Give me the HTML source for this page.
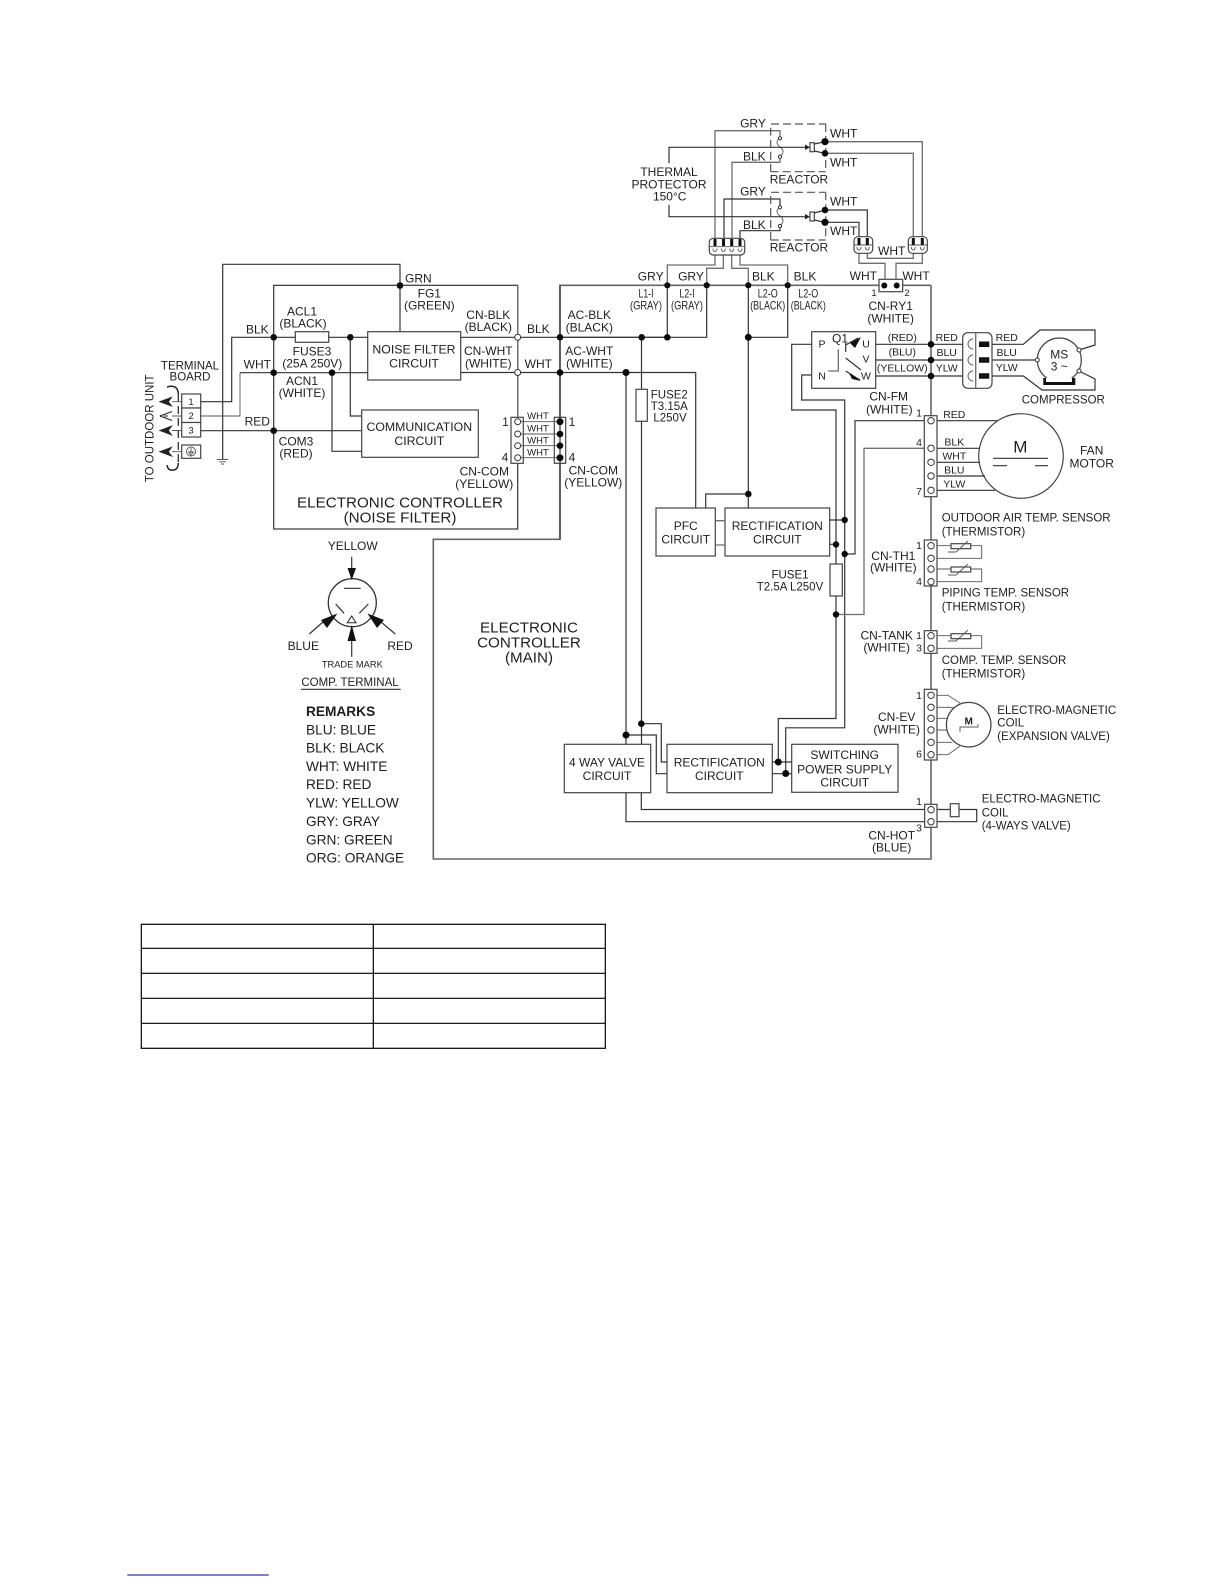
<!DOCTYPE html>
<html><head><meta charset="utf-8"><title>Wiring diagram</title>
<style>
html,body{margin:0;padding:0;background:#fff}
svg{display:block}
text{font-family:"Liberation Sans",sans-serif;font-size:12px;fill:#1e1e1e;text-anchor:middle}
.l{text-anchor:start}
.s9{font-size:9.5px}.s10{font-size:10.5px}.s11{font-size:11.5px}.s12{font-size:12.3px}.s15{font-size:15.2px}.s14{font-size:13.7px}
.w{fill:none;stroke:#333;stroke-width:1.2}
.g{fill:none;stroke:#6e6e6e;stroke-width:1.3}
.t{fill:none;stroke:#555;stroke-width:.9}
.r{fill:none;stroke:#666;stroke-width:1.6}
.d{fill:none;stroke:#555;stroke-width:1.2;stroke-dasharray:8 4}
.b{fill:#fff;stroke:#444;stroke-width:1.2}
.o{fill:#fff;stroke:#333;stroke-width:1}
</style></head><body>
<svg width="1224" height="1584" viewBox="0 0 1224 1584" xmlns="http://www.w3.org/2000/svg">
<rect width="1224" height="1584" fill="#fff"/>

<!-- outer frames -->
<rect class="w" x="273.7" y="285.3" width="244" height="243.7" fill="none"/>
<path class="r" d="M931 285.3V859H433.3V539.3H560V285.3H880M903 285.3H931"/>

<!-- ground / GRN -->
<path class="w" d="M400 332V264.3H222.7V459"/>
<path class="t" d="M217 459.5H228M219 461.8H226M221 464H224"/>

<!-- noise filter wiring -->
<path class="w" d="M200.7 401.7H231.7V337.3H295.3M328.7 337.3H367.7"/>
<path class="t" d="M200.7 416H240V372.7"/>
<path class="w" d="M240 372.7H367.7M200.7 430.7H361.7"/>
<path class="w" d="M350.3 337.3V416H361.7M332 372.7V451.3H361.7"/>
<path class="w" d="M460.7 337.3H667M460.7 372.5H695.7V508"/>
<path class="g" d="M517.7 285.3V421"/>
<rect class="b" x="295.3" y="331.7" width="33.4" height="10.6" fill="none"/>
<rect class="b" x="367.7" y="331.7" width="93" height="48.3"/>
<rect class="b" x="361.7" y="410" width="116.6" height="47.3"/>

<!-- CN-COM -->
<rect class="b" x="511" y="417.3" width="12.3" height="46"/>
<rect class="b" x="554.3" y="417.3" width="11.4" height="46"/>
<path class="w" d="M560 285.3V539.3"/>
<path class="t" d="M517.7 421.7H560M517.7 434H560M517.7 445.7H560M517.7 457.7H560"/>
<circle class="o" cx="517.7" cy="421.7" r="3"/><circle class="o" cx="517.7" cy="434" r="3"/><circle class="o" cx="517.7" cy="445.7" r="3"/><circle class="o" cx="517.7" cy="457.7" r="3"/>
<circle class="o" cx="517.7" cy="337.3" r="3"/><circle class="o" cx="517.7" cy="372.5" r="3"/>

<!-- top right L1/L2 block -->
<path class="w" d="M667.3 285.3V337.3M706.7 285.3V337.3H560M748.3 285.3V508M748.3 337.3H787.7V285.3"/>
<path class="w" d="M748.3 494H705.7V508"/>
<path class="w" d="M641.5 337.3V389.3M641.5 421.3V744.3M626 372.5V744.3"/>
<rect class="b" x="636" y="389.3" width="11.3" height="32" fill="none"/>

<!-- connector from reactors -->
<path class="g" d="M715 238V130.7H780V138M780 157V162.3H732V238"/>
<path class="w" d="M724 238V199H780V207M780 226V230.7H740V238"/>
<path class="g" d="M715 255V265H667.3V285.3M723.3 255V268.3H706.7V285.3M731.7 255V268.3H748.3V285.3M740 255V265H787.7V285.3"/>
<path class="t" d="M780 138c-4 3-4 6 0 9s4 6 0 10M780 207c-4 3-4 6 0 9s4 6 0 10"/>
<circle class="o" cx="780" cy="138.3" r="1.6"/><circle class="o" cx="780" cy="156.7" r="1.6"/><circle class="o" cx="780" cy="207.3" r="1.6"/><circle class="o" cx="780" cy="226" r="1.6"/>
<path class="d" d="M770.7 171.7V124H825.7M770.7 171.7H825.7M825.7 124V171"/>
<path class="d" d="M770.7 240V192.3H825.7M770.7 240H825.7M825.7 192.3V240"/>
<path class="w" d="M669 163.3V147.3H808M669 205V216.7H808"/>
<path d="M805 144.5L810 147.3L805 150ZM805 214L810 216.7L805 219.4Z" fill="#222"/>
<rect class="b" x="810" y="142.7" width="4.3" height="9"/><rect class="b" x="810" y="212" width="4.3" height="9"/>
<path class="w" d="M814.3 144L825 141.7M814.3 151L825 153.3M814.3 213L825 210M814.3 220L825 222.3"/>
<path class="g" d="M825 141.7H922.3V236.7M825 153.3H913.3V236.7"/>
<path class="w" d="M825 210H867.3V240M825 222.3H859V240"/>
<path class="g" d="M859 253V263.3H885V280M867.3 253V258.3H913.3V253M922.3 253V263.3H896V280"/>
<rect x="709.3" y="238.3" width="35.4" height="16.7" rx="4" class="b"/>
<path class="t" d="M709.3 246.7H744.7"/>
<path d="M713.5 239h3v7h-3zM722 239h3v7h-3zM730.2 239h3v7h-3zM738.5 239h3v7h-3z" fill="#111"/>
<path class="t" d="M713 248.5a2 3 0 0 0 4 0M721.3 248.5a2 3 0 0 0 4 0M729.7 248.5a2 3 0 0 0 4 0M738 248.5a2 3 0 0 0 4 0"/>
<rect x="854" y="236.7" width="18.7" height="16.6" rx="4" class="b"/>
<rect x="908.3" y="236.7" width="19" height="16.6" rx="4" class="b"/>
<path class="t" d="M854 245H872.7M908.3 245H927.3"/>
<path d="M857.5 238h3v7h-3zM865.8 238h3v7h-3zM911.8 238h3v7h-3zM920.8 238h3v7h-3z" fill="#111"/>
<path class="t" d="M857 247a2 3 0 0 0 4 0M865.3 247a2 3 0 0 0 4 0M911.3 247a2 3 0 0 0 4 0M920.3 247a2 3 0 0 0 4 0"/>
<rect class="b" x="879" y="279.3" width="23.7" height="12.4"/>

<!-- PFC & rectification -->
<rect class="b" x="656" y="508" width="59.3" height="48"/>
<rect class="b" x="725" y="508" width="104.7" height="48"/>
<path class="g" d="M715.3 520.7H725M715.3 545H725"/>
<path class="w" d="M829.7 520H844.7M829.7 544.3H836M844.7 554H855V420.7H1000"/>
<path class="w" d="M811.7 344.3H791.7V410H836V564M836 596V718.5H778.3V762"/>
<path class="w" d="M811.7 375H801.7V400H844.7V727.8H785.7V773.5"/>
<rect class="b" x="830" y="564" width="12.3" height="32" fill="none"/>
<path class="g" d="M836 614.5H864V448.3H930"/>

<!-- Q box -->
<rect class="b" x="811.7" y="331.7" width="64" height="56.6"/>
<path class="g" d="M838.3 349.3V371H828.3"/>
<path class="w" d="M845.7 343V352M845.7 345L858 338M845.7 358L861 370M845.7 371L860 380"/>
<path d="M850 343L861 337L855 348ZM849 373L861 381L852 379Z" fill="#111"/>
<path class="w" d="M875.7 344.3H962.7M875.7 360H962.7M875.7 376H962.7"/>
<rect x="962.7" y="332.7" width="29.3" height="55.6" rx="5" class="b"/>
<path class="g" d="M975.7 332.7V388.3"/>
<path class="t" d="M973 339a5 5 0 0 0 0 10M973 355a5 5 0 0 0 0 10M973 371a5 5 0 0 0 0 10"/>
<path d="M979 341.5h10.3v5.5H979zM979 357.2h10.3v5.5H979zM979 373.2h10.3v5.5H979z" fill="#111"/>
<!-- compressor -->
<path class="w" d="M992 344.3H1023.3L1040 330H1095V345L1079 350M992 360H1037.3M992 376H1023.3L1042 390H1095V379L1079 371"/>
<circle cx="1059.3" cy="360" r="22" class="b"/>
<circle class="o" cx="1037.3" cy="360" r="2"/><circle class="o" cx="1079" cy="350" r="2"/><circle class="o" cx="1079" cy="371" r="2"/>
<path d="M1043.3 378h32v7h-32z" fill="#111"/><path d="M1046 378h26v4h-26z" fill="#fff"/>

<!-- CN-FM / fan -->
<circle cx="1021" cy="456" r="42.3" class="b"/>
<path class="w" d="M937 448.3H980M937 462.3H980M937 476H985M937 490.3H995M993 458.3H1048M993 465.7H1007M1035 465.7H1048"/>
<rect class="b" x="924.3" y="415.7" width="12.7" height="81"/>
<circle class="o" cx="931" cy="420.7" r="3.2"/><circle class="o" cx="931" cy="448.3" r="3.2"/><circle class="o" cx="931" cy="462.3" r="3.2"/><circle class="o" cx="931" cy="476" r="3.2"/><circle class="o" cx="931" cy="490.3" r="3.2"/>

<!-- thermistors -->
<rect class="b" x="924.3" y="540" width="12.7" height="46"/>
<circle class="o" cx="931" cy="545.7" r="3.2"/><circle class="o" cx="931" cy="558.3" r="3.2"/><circle class="o" cx="931" cy="569" r="3.2"/><circle class="o" cx="931" cy="581.7" r="3.2"/>
<path class="t" d="M937 545.7H951M970.7 545.7H981.7V558.3H937M937 569H951M970.7 569H981.7V581.7H937"/>
<rect class="b" x="951" y="543.7" width="19.7" height="5" fill="none"/><rect class="b" x="951" y="567" width="19.7" height="5" fill="none"/>
<path class="t" d="M948 552L956 552L968 541M948 575L956 575L968 564"/>
<rect class="b" x="924.3" y="630.7" width="12.7" height="22.6"/>
<circle class="o" cx="931" cy="635.7" r="3.2"/><circle class="o" cx="931" cy="648.3" r="3.2"/>
<path class="t" d="M937 635.7H951M970.7 635.7H981.7V648.3H937"/>
<rect class="b" x="951" y="633.7" width="19.7" height="5" fill="none"/>
<path class="t" d="M948 641L956 641L968 630"/>

<!-- CN-EV -->
<path class="t" d="M937 695.3H948L960 703M937 707.3H950L954 708M937 718.3H947M937 730H947M937 742.3H952M937 754.7H948L960 746"/>
<rect class="b" x="924.3" y="689.3" width="12.7" height="70.7"/>
<circle class="o" cx="931" cy="695.3" r="3.2"/><circle class="o" cx="931" cy="707.3" r="3.2"/><circle class="o" cx="931" cy="718.3" r="3.2"/><circle class="o" cx="931" cy="730" r="3.2"/><circle class="o" cx="931" cy="742.3" r="3.2"/><circle class="o" cx="931" cy="754.7" r="3.2"/>
<circle cx="968.7" cy="724.7" r="22.3" class="b"/>
<path class="t" d="M960 732V727H978V724"/>

<!-- bottom blocks -->
<rect class="b" x="564.3" y="744.3" width="86.4" height="48.4"/>
<rect class="b" x="667" y="744.3" width="105.3" height="48.4"/>
<rect class="b" x="791.7" y="744.3" width="106.3" height="48"/>
<path class="w" d="M641.3 723.7H661.3V762H667M626 735H656.3V773.7H667"/>
<path class="w" d="M772.3 762H791.7M772.3 773.7H791.7"/>
<path class="w" d="M641.3 792.7V809.5H976.7V821.7H626V792.7"/>
<rect class="b" x="924.7" y="804.3" width="12.3" height="23"/>
<circle class="o" cx="931" cy="809.7" r="3.2"/><circle class="o" cx="931" cy="821.7" r="3.2"/>
<rect class="b" x="950.3" y="803.7" width="8.7" height="13"/>

<!-- terminal board -->
<rect class="b" x="181.7" y="394" width="19" height="14"/><rect class="b" x="181.7" y="408" width="19" height="14.5"/><rect class="b" x="181.7" y="422.5" width="19" height="14.5"/><rect class="b" x="181.7" y="445" width="19" height="13.3"/>
<circle class="t" cx="191" cy="451.5" r="4.5"/>
<path class="t" d="M191 448V453M188.5 452L191 455L193.5 452Z"/>
<path d="M178.3 394V464" fill="none" stroke="#333" stroke-width="1.3" stroke-dasharray="8 4"/>
<path d="M167 387Q178 384 178.3 394M167 465Q168 471 173 470Q178 470 178.3 463" fill="none" stroke="#222" stroke-width="1.5"/>
<path d="M172 401.7H181.7M172 416H181.7M172 430.5H181.7M172 451.7H181.7" class="t"/>
<path d="M159.5 401.7L172 397L168.5 401.7L172 406.4Z" fill="#222" stroke="#222" stroke-width=".6"/>
<path d="M160 416L172 411.5M160 416L172 420.5M164 416H168" fill="none" stroke="#222" stroke-width="1.1"/>
<path d="M159.5 430.5L172 425.8L168.5 430.5L172 435.2Z" fill="#222" stroke="#222" stroke-width=".6"/>
<path d="M159.5 451.7L172 447L168.5 451.7L172 456.4Z" fill="#222" stroke="#222" stroke-width=".6"/>

<!-- dots -->
<g fill="#0a0a0a">
<circle cx="400" cy="285.5" r="3.3"/><circle cx="273.7" cy="337.3" r="3.3"/><circle cx="350.3" cy="337.3" r="3.3"/><circle cx="273.7" cy="372.7" r="3.3"/><circle cx="332" cy="372.7" r="3.3"/><circle cx="273.7" cy="430.7" r="3.3"/>
<circle cx="560" cy="337.3" r="3.3"/><circle cx="560" cy="372.5" r="3.3"/><circle cx="560" cy="421.7" r="3.5"/><circle cx="560" cy="434" r="3.3"/><circle cx="560" cy="445.7" r="3.3"/><circle cx="560" cy="457.7" r="3.5"/>
<circle cx="641.7" cy="337.3" r="3.3"/><circle cx="667.3" cy="337.3" r="3.3"/><circle cx="748.3" cy="337.3" r="3.5"/><circle cx="626" cy="372.5" r="3.5"/>
<circle cx="667.3" cy="285.3" r="3.1"/><circle cx="706.7" cy="285.3" r="3.1"/><circle cx="748.3" cy="285.3" r="3.1"/><circle cx="787.7" cy="285.3" r="3.1"/>
<circle cx="748.3" cy="494" r="3.3"/><circle cx="825" cy="141.7" r="3.6"/><circle cx="825" cy="153.3" r="3.3"/><circle cx="825" cy="210" r="3.3"/><circle cx="825" cy="222.3" r="3.6"/>
<circle cx="884.3" cy="285.5" r="3"/><circle cx="896.7" cy="285.5" r="3"/>
<circle cx="931" cy="344.3" r="3.3"/><circle cx="931" cy="360" r="3.3"/><circle cx="931" cy="376" r="3.3"/>
<circle cx="844.7" cy="520" r="3.2"/><circle cx="836" cy="544.5" r="3.2"/><circle cx="844.7" cy="554" r="3.2"/><circle cx="836" cy="614.5" r="3.2"/>
<circle cx="641.3" cy="723.7" r="3.3"/><circle cx="626" cy="735" r="3.5"/><circle cx="778.3" cy="762" r="3.5"/><circle cx="785.7" cy="773.5" r="3.5"/>
</g>

<!-- comp terminal symbol -->
<circle cx="352.3" cy="602.7" r="24" fill="none" stroke="#333" stroke-width="1.3"/>
<path class="w" d="M351.7 556.7V570M351.7 640V656.7M309.3 634L323 622M395.3 634L381 622M344 588.3H360.7M335.7 604L344 613.3M368.3 604L359.3 613.3"/>
<path d="M351.7 580L347.5 568H356ZM351.7 625L347.5 641H356ZM337.5 613.5L321 620L327 628ZM367.5 613.5L384 620L377 628Z" fill="#111"/>
<path d="M351.7 616L347.3 622.7H356Z" fill="#fff" stroke="#222"/>
<path d="M301 689.3H400.7" stroke="#333" stroke-width="1.2" fill="none"/>

<!-- table -->
<g fill="none" stroke="#000" stroke-width="1.2">
<rect x="141.3" y="924.3" width="464" height="124"/>
<path d="M373.3 924.3V1048.3M141.3 948.3H605.3M141.3 973.3H605.3M141.3 998.3H605.3M141.3 1023.3H605.3"/>
</g>
<path d="M127.3 1575H268.7" stroke="#00008b" stroke-width="1.1"/>

<!-- labels -->
<text class="s11" x="190" y="369.3">TERMINAL</text><text class="s11" x="190" y="380.7">BOARD</text>
<text class="s11" transform="translate(153.3 428.3) rotate(-90)">TO OUTDOOR UNIT</text>
<text class="s9" x="191" y="405">1</text><text class="s9" x="191" y="419">2</text><text class="s9" x="191" y="433.5">3</text>
<text x="405" y="282.3" class="l">GRN</text>
<text x="257.3" y="333.3">BLK</text><text x="257.3" y="368.3">WHT</text><text x="257.3" y="425.7">RED</text>
<text x="302" y="315.7">ACL1</text><text x="303" y="327.7">(BLACK)</text>
<text x="312" y="355.3">FUSE3</text><text x="312.3" y="367.3">(25A 250V)</text>
<text x="302" y="385">ACN1</text><text x="302" y="397">(WHITE)</text>
<text x="296" y="445.3">COM3</text><text x="296" y="457.3">(RED)</text>
<text class="s12" x="414" y="353.7">NOISE FILTER</text><text class="s12" x="414" y="367.3">CIRCUIT</text>
<text class="s12" x="419.3" y="431">COMMUNICATION</text><text class="s12" x="419.3" y="445">CIRCUIT</text>
<text x="429.3" y="297.3">FG1</text><text x="429.3" y="309.3">(GREEN)</text>
<text x="488.3" y="319">CN-BLK</text><text x="488.3" y="331">(BLACK)</text>
<text x="488.3" y="355">CN-WHT</text><text x="488.3" y="367.3">(WHITE)</text>
<text x="505.5" y="426">1</text><text x="505" y="461.7">4</text><text x="572" y="426">1</text><text x="572" y="461.7">4</text>
<text x="484.3" y="475.7">CN-COM</text><text x="484.3" y="488">(YELLOW)</text>
<text class="s15" x="400" y="507.7">ELECTRONIC CONTROLLER</text><text class="s15" x="400" y="522.3">(NOISE FILTER)</text>
<text x="538.3" y="333">BLK</text><text x="538.3" y="368">WHT</text>
<text x="589.3" y="319">AC-BLK</text><text x="589.3" y="331.3">(BLACK)</text><text x="589.3" y="355">AC-WHT</text><text x="589.3" y="367.3">(WHITE)</text>
<text x="650.7" y="280.3">GRY</text><text x="691" y="280.3">GRY</text><text x="763.3" y="280.3">BLK</text><text x="805" y="280.3">BLK</text>
<text x="646" y="297.3" textLength="15" lengthAdjust="spacingAndGlyphs">L1-I</text><text x="646" y="309.3" textLength="32" lengthAdjust="spacingAndGlyphs">(GRAY)</text>
<text x="687" y="297.3" textLength="15" lengthAdjust="spacingAndGlyphs">L2-I</text><text x="687" y="309.3" textLength="32" lengthAdjust="spacingAndGlyphs">(GRAY)</text>
<text x="767.7" y="297.3" textLength="20" lengthAdjust="spacingAndGlyphs">L2-O</text><text x="767.7" y="309.3" textLength="35" lengthAdjust="spacingAndGlyphs">(BLACK)</text>
<text x="808.3" y="297.3" textLength="20" lengthAdjust="spacingAndGlyphs">L2-O</text><text x="808.3" y="309.3" textLength="35" lengthAdjust="spacingAndGlyphs">(BLACK)</text>
<text class="s11" x="669.3" y="398.3">FUSE2</text><text class="s11" x="669.3" y="410">T3.15A</text><text class="s11" x="670" y="421.3">L250V</text>
<text class="s9" x="538" y="419">WHT</text><text class="s9" x="538" y="431.5">WHT</text><text class="s9" x="538" y="443.5">WHT</text><text class="s9" x="538" y="455.5">WHT</text>
<text x="593.3" y="474.3">CN-COM</text><text x="593.3" y="486.7">(YELLOW)</text>
<text x="685.7" y="530">PFC</text><text x="685.7" y="543.3">CIRCUIT</text>
<text x="777.3" y="530">RECTIFICATION</text><text x="777.3" y="543.3">CIRCUIT</text>
<text x="753" y="127.3">GRY</text><text x="754.3" y="160.7">BLK</text><text x="753" y="195.7">GRY</text><text x="754.3" y="229">BLK</text>
<text x="669" y="176">THERMAL</text><text x="669" y="188.3">PROTECTOR</text><text x="669.7" y="200.7">150°C</text>
<text class="l" x="830" y="137.3">WHT</text><text class="l" x="830" y="166.7">WHT</text><text class="l" x="830" y="205.3">WHT</text><text class="l" x="830" y="235">WHT</text>
<text x="799" y="183.3">REACTOR</text><text x="799" y="251.7">REACTOR</text>
<text x="891.7" y="255">WHT</text><text x="863.3" y="280">WHT</text><text x="916" y="280">WHT</text>
<text class="s9" x="874" y="296">1</text><text class="s9" x="907" y="296">2</text>
<text x="890.7" y="310">CN-RY1</text><text x="890.7" y="322.3">(WHITE)</text>
<text class="s10" x="822" y="347.3">P</text><text class="s10" x="822" y="379.3">N</text><text x="840" y="342.3">Q1</text><text class="s10" x="866" y="347.3">U</text><text class="s10" x="866" y="362.7">V</text><text class="s10" x="866" y="379.3">W</text>
<text class="s10" x="902.3" y="341">(RED)</text><text class="s10" x="902.3" y="355.7">(BLU)</text><text class="s10" x="902.3" y="371.3">(YELLOW)</text>
<text class="s10" x="946.7" y="341">RED</text><text class="s10" x="946.7" y="356">BLU</text><text class="s10" x="946.7" y="371.3">YLW</text>
<text class="s10" x="1006.7" y="341">RED</text><text class="s10" x="1006.7" y="356">BLU</text><text class="s10" x="1006.7" y="371">YLW</text>
<text x="1059.3" y="358.3">MS</text><text x="1059.3" y="370.7">3 ~</text>
<text class="s11" x="1063.3" y="403.3">COMPRESSOR</text>
<text x="888.7" y="400.7">CN-FM</text><text x="889.3" y="413.3">(WHITE)</text>
<text class="s10" x="919" y="416.7">1</text><text class="s10" x="919" y="446">4</text><text class="s10" x="919" y="495">7</text>
<text class="s10" x="954.3" y="418">RED</text><text class="s10" x="954.3" y="445.7">BLK</text><text class="s10" x="954.3" y="459.3">WHT</text><text class="s10" x="954.3" y="473.7">BLU</text><text class="s10" x="954.3" y="487.3">YLW</text>
<text x="1020.3" y="452.7" style="font-size:17px">M</text>
<text x="1091.7" y="454.3">FAN</text><text x="1091.7" y="467.7">MOTOR</text>
<text class="l s11" x="941.7" y="521.7">OUTDOOR AIR TEMP. SENSOR</text><text class="l s11" x="941.7" y="535.7">(THERMISTOR)</text>
<text x="893.3" y="560">CN-TH1</text><text x="893.3" y="571.7">(WHITE)</text>
<text class="s10" x="919" y="549">1</text><text class="s10" x="919" y="585">4</text>
<text class="l s11" x="941.7" y="596.7">PIPING TEMP. SENSOR</text><text class="l s11" x="941.7" y="610.7">(THERMISTOR)</text>
<text x="886.7" y="639.3">CN-TANK</text><text x="886.7" y="651.7">(WHITE)</text>
<text class="s10" x="919" y="639">1</text><text class="s10" x="919" y="651.7">3</text>
<text class="l s11" x="941.7" y="664">COMP. TEMP. SENSOR</text><text class="l s11" x="941.7" y="677.3">(THERMISTOR)</text>
<text x="896.7" y="721">CN-EV</text><text x="896.7" y="733.3">(WHITE)</text>
<text class="s10" x="919" y="699">1</text><text class="s10" x="919" y="757.7">6</text>
<text x="968.7" y="724.3" style="font-size:10px;font-weight:bold">M</text>
<text class="l s11" x="997.3" y="714">ELECTRO-MAGNETIC</text><text class="l s11" x="997.3" y="726.7">COIL</text><text class="l s11" x="997.3" y="740">(EXPANSION VALVE)</text>
<text class="l s11" x="981.7" y="802.7">ELECTRO-MAGNETIC</text><text class="l s11" x="981.7" y="816.7">COIL</text><text class="l s11" x="981.7" y="829.3">(4-WAYS VALVE)</text>
<text class="s10" x="919" y="805">1</text><text class="s10" x="919" y="831.7">3</text>
<text x="891.7" y="839.3">CN-HOT</text><text x="891.7" y="851.7">(BLUE)</text>
<text x="844.7" y="759">SWITCHING</text><text x="844.7" y="773.3">POWER SUPPLY</text><text x="844.7" y="786.7">CIRCUIT</text>
<text x="607" y="766.7">4 WAY VALVE</text><text x="607" y="780">CIRCUIT</text>
<text x="719.3" y="766.7">RECTIFICATION</text><text x="719.3" y="780">CIRCUIT</text>
<text class="s15" x="529" y="632.3">ELECTRONIC</text><text class="s15" x="529" y="647.7">CONTROLLER</text><text class="s15" x="529" y="662.7">(MAIN)</text>
<text class="s11" x="790" y="578.3">FUSE1</text><text class="s11" x="790" y="590.7">T2.5A L250V</text>
<text x="352.7" y="550">YELLOW</text><text x="303.3" y="650">BLUE</text><text x="400" y="650">RED</text>
<text x="352.3" y="667.3" style="font-size:9.3px">TRADE MARK</text><text class="s11" x="350" y="686">COMP. TERMINAL</text>
<text class="l s14" x="306" y="716" style="font-weight:bold">REMARKS</text>
<text class="l s14" x="306" y="734.3">BLU: BLUE</text><text class="l s14" x="306" y="752.7">BLK: BLACK</text><text class="l s14" x="306" y="771">WHT: WHITE</text><text class="l s14" x="306" y="789">RED: RED</text><text class="l s14" x="306" y="807.3">YLW: YELLOW</text><text class="l s14" x="306" y="826">GRY: GRAY</text><text class="l s14" x="306" y="844.3">GRN: GREEN</text><text class="l s14" x="306" y="862.7">ORG: ORANGE</text>
</svg>
</body></html>
